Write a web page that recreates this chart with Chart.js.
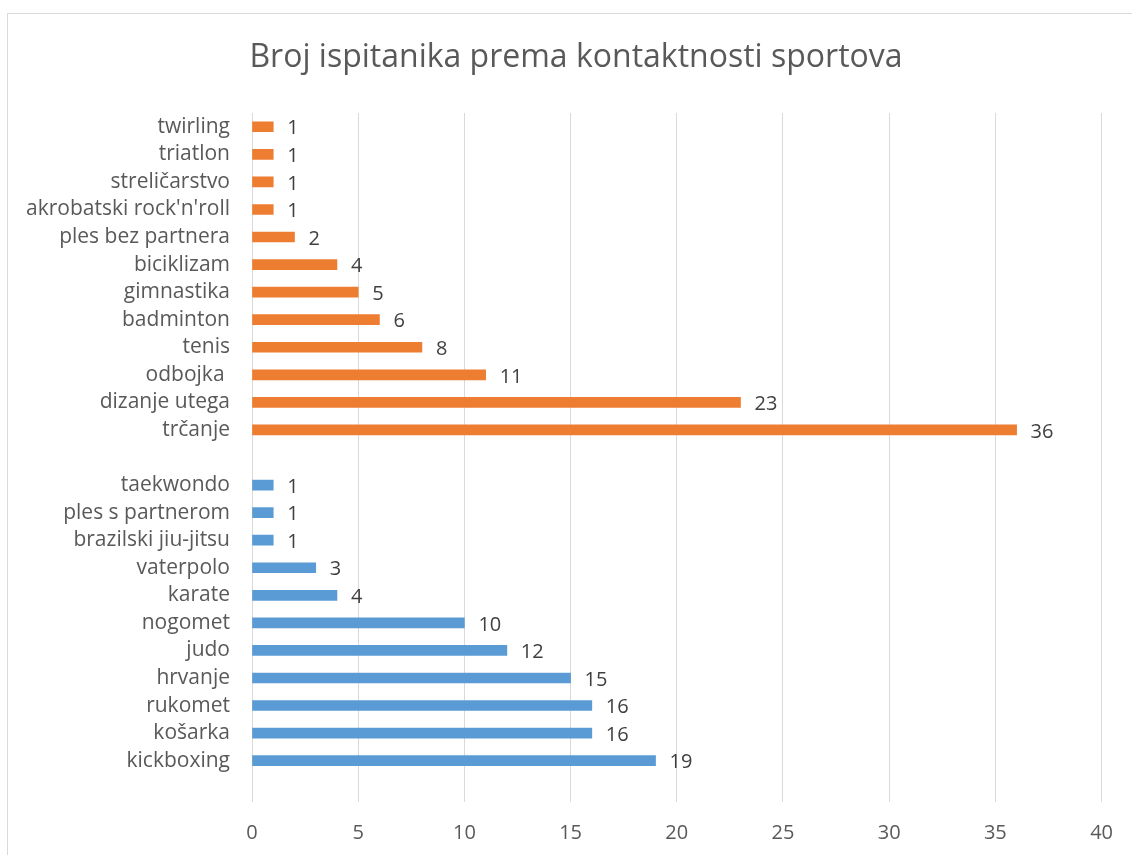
<!DOCTYPE html>
<html>
<head>
<meta charset="utf-8">
<script src="https://cdn.jsdelivr.net/npm/chart.js@4"></script>
<style>
  html, body { margin: 0; padding: 0; background: #fff; }
  #wrap { width: 1132px; height: 855px; position: relative; }
</style>
</head>
<body>
<div id="wrap"><canvas id="sportsChart"></canvas></div>
<script>
// beskontaktni sportovi (narančasto), od vrha prema dolje
const nonContactLabels = ["twirling", "triatlon", "streličarstvo", "akrobatski rock'n'roll", "ples bez partnera",
  "biciklizam", "gimnastika", "badminton", "tenis", "odbojka ", "dizanje utega", "trčanje"];
const nonContactValues = [1, 1, 1, 1, 2, 4, 5, 6, 8, 11, 23, 36];

// kontaktni sportovi (plavo)
const contactLabels = ["taekwondo", "ples s partnerom", "brazilski jiu-jitsu", "vaterpolo", "karate",
  "nogomet", "judo", "hrvanje", "rukomet", "košarka", "kickboxing"];
const contactValues = [1, 1, 1, 3, 4, 10, 12, 15, 16, 16, 19];

const xTicks = [0, 5, 10, 15, 20, 25, 30, 35, 40];
const chartTitle = "Broj ispitanika prema kontaktnosti sportova";

const ORANGE = "#ED7D31";
const BLUE = "#5B9BD5";
const FONT = "'Open Sans', sans-serif";

// prazan red između grupa i na dnu, kao u Excelu
const labels = [...nonContactLabels, "", ...contactLabels, ""];
const values = [...nonContactValues, null, ...contactValues, null];
const colors = [...nonContactLabels.map(() => ORANGE), ORANGE, ...contactLabels.map(() => BLUE), BLUE];

const frameAndTitle = {
  id: "frameAndTitle",
  beforeDraw(chart) {
    const ctx = chart.ctx;
    ctx.save();
    ctx.strokeStyle = "#D9D9D9";
    ctx.lineWidth = 1;
    ctx.strokeRect(7.5, 13.5, 1140, 900);
    ctx.fillStyle = "#595959";
    ctx.font = "32px " + FONT;
    ctx.textAlign = "center";
    ctx.textBaseline = "middle";
    ctx.fillText(chartTitle, 576, 58);
    ctx.restore();
  }
};

const valueLabels = {
  id: "valueLabels",
  afterDatasetsDraw(chart) {
    const ctx = chart.ctx;
    const meta = chart.getDatasetMeta(0);
    ctx.save();
    ctx.fillStyle = "#404040";
    ctx.font = "20px " + FONT;
    ctx.textAlign = "left";
    ctx.textBaseline = "middle";
    meta.data.forEach((bar, i) => {
      const v = chart.data.datasets[0].data[i];
      if (v == null) return;
      ctx.fillText(String(v), bar.x + 14, bar.y + 2);
    });
    ctx.restore();
  }
};

new Chart(document.getElementById("sportsChart").getContext("2d"), {
  type: "bar",
  data: {
    labels: labels,
    datasets: [{
      data: values,
      backgroundColor: colors,
      barThickness: 10
    }]
  },
  options: {
    indexAxis: "y",
    responsive: true,
    maintainAspectRatio: false,
    animation: false,
    layout: { padding: { top: 113, right: 29, bottom: 0, left: 0 } },
    scales: {
      x: {
        min: 0,
        max: 40,
        afterBuildTicks: axis => { axis.ticks = xTicks.map(v => ({ value: v })); },
        afterFit: axis => { axis.height = 53; },
        grid: { color: "#D9D9D9", lineWidth: 1, drawTicks: false },
        border: { display: false },
        ticks: { color: "#595959", font: { family: FONT, size: 20 }, padding: 19 }
      },
      y: {
        afterFit: axis => { axis.width = 252; },
        grid: { display: false, drawTicks: false },
        border: { display: false },
        ticks: { color: "#595959", font: { family: FONT, size: 21 }, padding: 22, autoSkip: false }
      }
    },
    plugins: {
      legend: { display: false },
      title: { display: false },
      tooltip: { enabled: false }
    }
  },
  plugins: [frameAndTitle, valueLabels]
});
</script>
</body>
</html>
